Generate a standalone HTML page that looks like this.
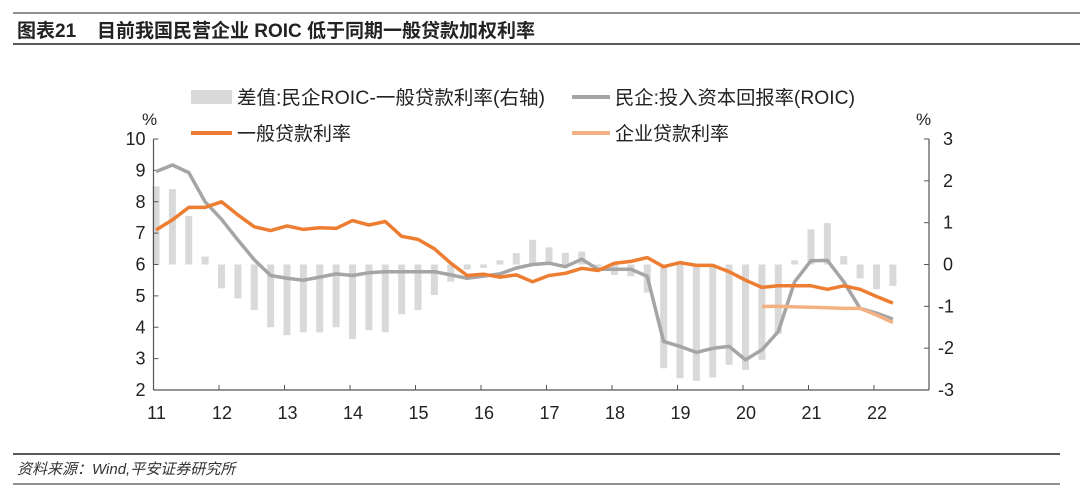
<!DOCTYPE html>
<html><head><meta charset="utf-8">
<style>
body{margin:0;background:#fff;width:1080px;height:495px;overflow:hidden;font-family:"Liberation Sans","Noto Sans CJK SC",sans-serif;}
svg text{font-family:"Liberation Sans","Noto Sans CJK SC",sans-serif;}
</style></head><body>
<svg id="chart" width="1080" height="495">
<line x1="13" y1="13" x2="1080" y2="13" stroke="#222" stroke-width="1"/>
<text x="17" y="37" font-size="19" font-weight="bold" fill="#222">图表21<tspan x="97">目前我国民营企业 ROIC 低于同期一般贷款加权利率</tspan></text>
<line x1="13" y1="44" x2="1080" y2="44" stroke="#222" stroke-width="1.5"/>
<g>
<rect x="191" y="90" width="41" height="14" fill="#d9d9d9"/>
<text x="237" y="104" font-size="19" textLength="308" lengthAdjust="spacingAndGlyphs" fill="#222">差值:民企ROIC-一般贷款利率(右轴)</text>
<line x1="572" y1="97" x2="610" y2="97" stroke="#a5a5a5" stroke-width="4"/>
<text x="615" y="104" font-size="19" textLength="240" lengthAdjust="spacingAndGlyphs" fill="#222">民企:投入资本回报率(ROIC)</text>
<line x1="191" y1="133" x2="232" y2="133" stroke="#ed7d31" stroke-width="4"/>
<text x="237" y="140" font-size="19" fill="#222">一般贷款利率</text>
<line x1="572" y1="133" x2="610" y2="133" stroke="#f4b183" stroke-width="4"/>
<text x="615" y="140" font-size="19" fill="#222">企业贷款利率</text>
</g>
<text x="142" y="125" font-size="17" fill="#222">%</text>
<text x="916" y="125" font-size="17" fill="#222">%</text>
<g id="plot"></g>
<line x1="13" y1="454" x2="1060" y2="454" stroke="#222" stroke-width="1.5"/>
<text x="17" y="474" font-size="15" font-style="italic" fill="#333">资料来源：Wind,平安证券研究所</text>
<line x1="13" y1="484" x2="1060" y2="484" stroke="#222" stroke-width="1"/>
</svg>
<script>
const years=["11","12","13","14","15","16","17","18","19","20","21","22"];
const leftTicks=[2,3,4,5,6,7,8,9,10];
const rightTicks=[-3,-2,-1,0,1,2,3];
const roic=[8.96,9.17,8.93,8.0,7.44,6.78,6.15,5.65,5.56,5.5,5.6,5.7,5.65,5.74,5.77,5.77,5.77,5.77,5.67,5.56,5.63,5.7,5.89,6.0,6.04,5.93,6.17,5.85,5.85,5.85,5.62,3.55,3.39,3.2,3.33,3.39,2.96,3.28,3.86,5.45,6.12,6.13,5.45,4.6,4.45,4.26];
const generalLoan=[7.1,7.42,7.82,7.82,8.0,7.58,7.2,7.08,7.23,7.12,7.17,7.15,7.4,7.26,7.37,6.9,6.8,6.5,6.04,5.65,5.69,5.6,5.67,5.45,5.65,5.72,5.88,5.81,6.04,6.1,6.22,5.93,6.06,5.97,5.97,5.77,5.5,5.27,5.32,5.32,5.32,5.21,5.32,5.21,4.98,4.77];
const corpLoan=[null,null,null,null,null,null,null,null,null,null,null,null,null,null,null,null,null,null,null,null,null,null,null,null,null,null,null,null,null,null,null,null,null,null,null,null,null,4.66,4.67,4.65,4.64,4.62,4.6,4.6,4.39,4.15];
const spread=[1.87,1.8,1.16,0.19,-0.57,-0.81,-1.09,-1.5,-1.69,-1.62,-1.62,-1.5,-1.78,-1.57,-1.62,-1.19,-1.09,-0.73,-0.41,-0.12,-0.08,0.1,0.27,0.59,0.41,0.28,0.31,-0.05,-0.25,-0.28,-0.67,-2.48,-2.72,-2.78,-2.7,-2.4,-2.52,-2.28,-1.65,0.1,0.84,0.99,0.2,-0.33,-0.59,-0.51];
const X0=153.5,X1=929,YT=139,YB=390,YEAR=65.5;
const xq=i=>156+YEAR/4*i;
const yL=v=>YB-(v-2)/8*(YB-YT);
const yR=v=>YB-(v+3)/6*(YB-YT);
const NS="http://www.w3.org/2000/svg";
const plot=document.getElementById('plot');
function mk(t,a){const e=document.createElementNS(NS,t);for(const k in a)e.setAttribute(k,a[k]);plot.appendChild(e);return e;}
spread.forEach((v,i)=>{
 const y0=yR(0),y1=yR(v);
 const r=mk('rect',{x:xq(i)-3.5,y:Math.min(y0,y1),width:7,height:Math.max(Math.abs(y1-y0),1),fill:'#d9d9d9'});
 
 
});
let a=mk('line',{x1:X0,y1:YT,x2:X0,y2:YB,stroke:'#555','stroke-width':1.2});


a=mk('line',{x1:X1,y1:YT,x2:X1,y2:YB,stroke:'#555','stroke-width':1.2});


a=mk('line',{x1:X0,y1:YB,x2:X1,y2:YB,stroke:'#555','stroke-width':1.2});


leftTicks.forEach(v=>{
 const y=yL(v);
 mk('line',{x1:X0,y1:y,x2:X0+5,y2:y,stroke:'#555'});
 const t=mk('text',{x:X0-8,y:y+6,'font-size':18,'text-anchor':'end',fill:'#222'});t.textContent=v;
 
 
});
rightTicks.forEach(v=>{
 const y=yR(v);
 mk('line',{x1:X1-5,y1:y,x2:X1,y2:y,stroke:'#555'});
 const t=mk('text',{x:v<0?X1+9:X1+14,y:y+6,'font-size':18,fill:'#222'});t.textContent=v;
 
 
});
years.forEach((yr,i)=>{
 const x=X0+YEAR*i;
 if(i>0)mk('line',{x1:x,y1:YB-5,x2:x,y2:YB,stroke:'#555'});
 const t=mk('text',{x:x+3,y:419,'font-size':18,'text-anchor':'middle',fill:'#222'});t.textContent=yr;
 
 
});
function line(data,color,name){
 let d='';data.forEach((v,i)=>{if(v==null)return;d+=(d?'L':'M')+xq(i).toFixed(1)+','+yL(v).toFixed(1);});
 const p=mk('path',{d:d,fill:'none',stroke:color,'stroke-width':3.5,'stroke-linejoin':'round'});
 
 
}
line(roic,'#a5a5a5','roic-line');
line(generalLoan,'#ed7d31','general-loan-rate-line');
line(corpLoan,'#f4b183','corporate-loan-rate-line');
</script>
</body></html>
